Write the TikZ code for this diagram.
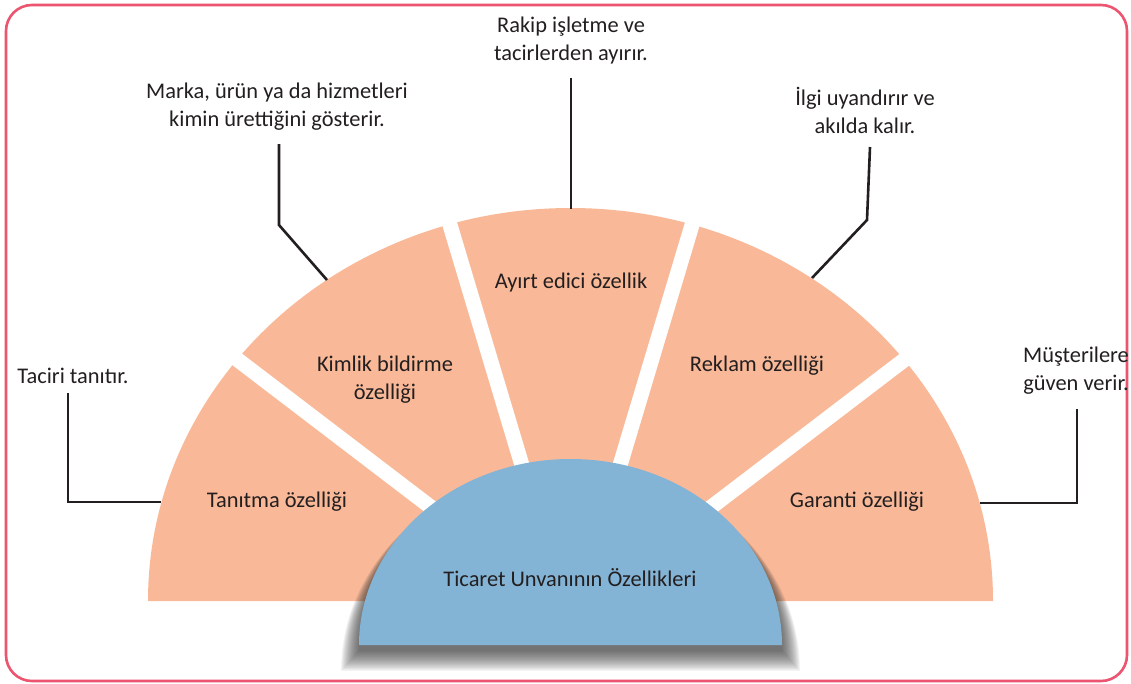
\documentclass[tikz,border=0pt]{standalone}
\usepackage{fontspec}
\setmainfont{Carlito}
\usetikzlibrary{calc}
\definecolor{frame}{RGB}{236,84,112}
\definecolor{salmon}{RGB}{249,185,152}
\definecolor{core}{RGB}{132,180,213}
\definecolor{ink}{RGB}{35,31,32}
\tikzset{
  txt/.style={text=ink,font=\fontsize{22.4}{28}\selectfont,align=center,inner sep=0pt},
  callout/.style={draw=ink,line width=2.6pt,line join=miter},
  gap/.style={draw=white,line width=15pt},
  shade/.style={fill=black!80,opacity=0.055},
}
\begin{document}
\begin{tikzpicture}[x=1pt,y=-1pt]
\useasboundingbox (0,0) rectangle (1131,683);
\fill[white] (0,0) rectangle (1131,683);
\draw[frame,line width=2.6pt,rounded corners=26pt] (6,5) rectangle (1127,681);
% fan
\fill[salmon] (148,601) arc[start angle=180,end angle=360,x radius=422.5,y radius=393] -- cycle;
% gaps
\coordinate (g1o) at (238,360); \coordinate (g1i) at (428,505);
\coordinate (g2o) at (450,225); \coordinate (g2i) at (521,462);
\coordinate (g3o) at (692,225); \coordinate (g3i) at (621,462);
\coordinate (g4o) at (904,360); \coordinate (g4i) at (714,505);
\draw[gap] ($(g1o)!-0.12!(g1i)$) -- ($(g1o)!1.2!(g1i)$);
\draw[gap] ($(g2o)!-0.1!(g2i)$) -- ($(g2o)!1.1!(g2i)$);
\draw[gap] ($(g3o)!-0.1!(g3i)$) -- ($(g3o)!1.1!(g3i)$);
\draw[gap] ($(g4o)!-0.12!(g4i)$) -- ($(g4o)!1.2!(g4i)$);
% soft shadow of the core
\foreach \d in {18,17,...,0}{
  \fill[shade] ({359-\d},{651+1.1*\d}) arc[start angle=180,end angle=360,x radius={211.5+\d},y radius={186+\d}] -- cycle;
}
% core
\fill[core] (359,645) arc[start angle=180,end angle=360,x radius=211.5,y radius=186] -- cycle;
\node[txt] (core) at (570,578) {Ticaret Unvanının Özellikleri};
% sector labels
\node[txt] (s1) at (277,502) {Tanıtma özelliği};
\node[txt] (s2) at (385,380) {Kimlik bildirme\\özelliği};
\node[txt] (s3) at (571,283) {Ayırt edici özellik};
\node[txt] (s4) at (757,366) {Reklam özelliği};
\node[txt] (s5) at (857,502) {Garanti özelliği};
% outer texts
\node[txt] (t1) at (73,376) {Taciri tanıtır.};
\node[txt] (t2) at (277,107) {Marka, ürün ya da hizmetleri\\kimin ürettiğini gösterir.};
\node[txt] (t3) at (571,41) {Rakip işletme ve\\tacirlerden ayırır.};
\node[txt] (t4) at (865,110) {İlgi uyandırır ve\\akılda kalır.};
\node[txt] (t5) at (1076,371) {Müşterilere\\güven verir.};
% callouts
\coordinate (c1a) at (68,393); \coordinate (c1b) at (68,502); \coordinate (c1c) at (161,502);
\draw[callout] (c1a) -- (c1b) -- (c1c);
\coordinate (c2a) at (279,144); \coordinate (c2b) at (279,225); \coordinate (c2c) at (327,280);
\draw[callout] (c2a) -- (c2b) -- (c2c);
\coordinate (c3a) at (571,78); \coordinate (c3b) at (571,209);
\draw[callout] (c3a) -- (c3b);
\coordinate (c4a) at (870,147); \coordinate (c4b) at (867,220); \coordinate (c4c) at (812,278);
\draw[callout] (c4a) -- (c4b) -- (c4c);
\coordinate (c5a) at (1077,409); \coordinate (c5b) at (1077,503); \coordinate (c5c) at (980,503);
\draw[callout] (c5a) -- (c5b) -- (c5c);
\end{tikzpicture}
\end{document}
